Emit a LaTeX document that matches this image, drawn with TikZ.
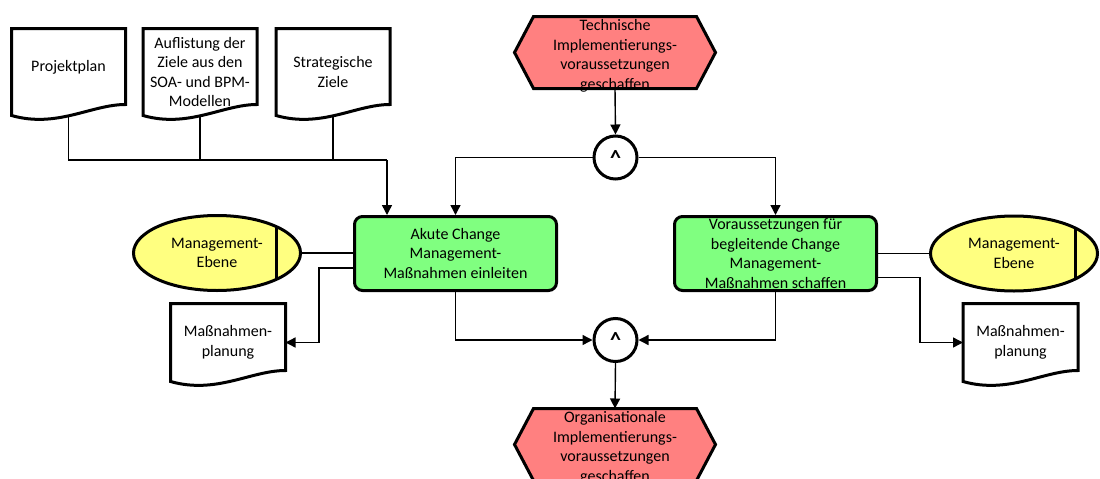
\documentclass[tikz,border=0pt]{standalone}
\usepackage{fontspec}
\setmainfont{Carlito}
\usetikzlibrary{arrows.meta,shapes.geometric,backgrounds}

\definecolor{eventred}{RGB}{255,128,128}
\definecolor{funcgreen}{RGB}{128,255,128}
\definecolor{orgyellow}{RGB}{255,255,128}

\tikzset{
  every node/.style={font=\fontsize{16pt}{19.5pt}\selectfont, align=center, inner sep=0pt, text=black},
  shapeline/.style={line width=3pt, draw=black},
  conn/.style={line width=1.4pt, draw=black},
  flow/.style={conn, -{Triangle[length=10pt,width=10pt]}},
  docbox/.style 2 args={minimum width=#1, minimum height=#2, outer sep=0pt},
  hexbox/.style={minimum width=201pt, minimum height=72pt, outer sep=0pt},
  hexlabel/.style={label={[yshift=-3.5pt]center:#1}},
  funcbox/.style={shapeline, fill=funcgreen, rounded corners=8pt, minimum width=202pt, minimum height=74pt},
  orgunit/.style={shapeline, fill=orgyellow, ellipse, minimum width=167pt, minimum height=75pt,
    path picture={\draw[line width=3pt] ([xshift=#1]path picture bounding box.center) ++(0pt,-60pt) -- ++(0pt,120pt);}},
  andgate/.style={shapeline, fill=white, circle, minimum size=43pt,
    font=\fontsize{22pt}{22pt}\selectfont\bfseries},
}

% document symbol: straight top and sides, wavy bottom edge
\newcommand\drawdocument[2]{%
  \draw[shapeline, fill=white] (#1.south west)
    .. controls ([xshift=0.4*#2, yshift=-13pt]#1.south west)
            and ([xshift=0.7*#2, yshift=11pt]#1.south west) .. ([yshift=11pt]#1.south east)
    -- (#1.north east) -- (#1.north west) -- cycle;}
% event symbol: flat hexagon
\newcommand\drawevent[1]{%
  \draw[shapeline, fill=eventred, line join=miter]
    ([xshift=19pt]#1.north west) -- ([xshift=-19pt]#1.north east) -- (#1.east)
    -- ([xshift=-19pt]#1.south east) -- ([xshift=19pt]#1.south west) -- (#1.west) -- cycle;}

\begin{document}
\begin{tikzpicture}[x=1pt, y=-1pt]
  \path[use as bounding box, clip] (0,0) rectangle (1100,479);

  % input documents
  \node[docbox={114pt}{87pt}, text depth=13pt] (pp) at (68.5,72) {Projektplan};
  \node[docbox={114pt}{87pt}] (al) at (200,72) {Auflistung der\\Ziele aus den\\SOA- und BPM-\\Modellen};
  \node[docbox={114pt}{87pt}] (sz) at (333,72) {Strategische\\Ziele};
  \coordinate (merge) at (387,160);

  % events
  \node[hexbox, hexlabel={Technische\\Implementierungs-\\voraussetzungen\\geschaffen}] (th) at (615,52.5) {};
  \node[hexbox, hexlabel={Organisationale\\Implementierungs-\\voraussetzungen\\geschaffen}] (bh) at (615,444.5) {};

  % operators
  \node[andgate] (and1) at (615.5,157.5) {\textasciicircum};
  \node[andgate] (and2) at (615.5,340) {\textasciicircum};

  % functions
  \node[funcbox] (ak) at (455.5,253.5) {Akute Change\\Management-\\Maßnahmen einleiten};
  \node[funcbox] (vb) at (775.5,253.5) {Voraussetzungen für\\begleitende Change\\Management-\\Maßnahmen schaffen};

  % organisational units
  \node[orgunit=59pt] (me1) at (217,253) {Management-\\Ebene};
  \node[orgunit=61pt] (me2) at (1014,253.5) {Management-\\Ebene};

  % output documents
  \node[docbox={115pt}{78pt}] (lm) at (228,342.5) {Maßnahmen-\\planung};
  \node[docbox={115pt}{78pt}] (rm) at (1020.5,342.5) {Maßnahmen-\\planung};

  \begin{pgfonlayer}{background}
    \drawdocument{pp}{114pt}
    \drawdocument{al}{114pt}
    \drawdocument{sz}{114pt}
    \drawdocument{lm}{115pt}
    \drawdocument{rm}{115pt}
    \drawevent{th}
    \drawevent{bh}
  \end{pgfonlayer}

  % connectors
  \draw[conn] (pp.south) |- (merge);
  \draw[conn, line width=2pt] (al.south) |- (merge);
  \draw[conn] (sz.south) |- (merge);
  \draw[flow] (merge) -- (merge |- ak.north);

  \draw[flow] (th.south) -- (and1.north);
  \draw[flow] (and1.west) -| (ak.north);
  \draw[flow] (and1.east) -| (vb.north);

  \draw[conn] (me1.east) -- (me1.east -| ak.west);
  \draw[conn] (vb.east) -- (vb.east -| me2.west);

  \draw[flow] ([yshift=-14.5pt]ak.west) -- ++(-34pt,0pt) |- (lm.east);
  \draw[flow] ([yshift=-24pt]vb.east) -- ++(42pt,0pt) |- (rm.west);

  \draw[flow] (ak.south) |- (and2.west);
  \draw[flow] (vb.south) |- (and2.east);
  \draw[flow] (and2.south) -- (bh.north);
\end{tikzpicture}
\end{document}
